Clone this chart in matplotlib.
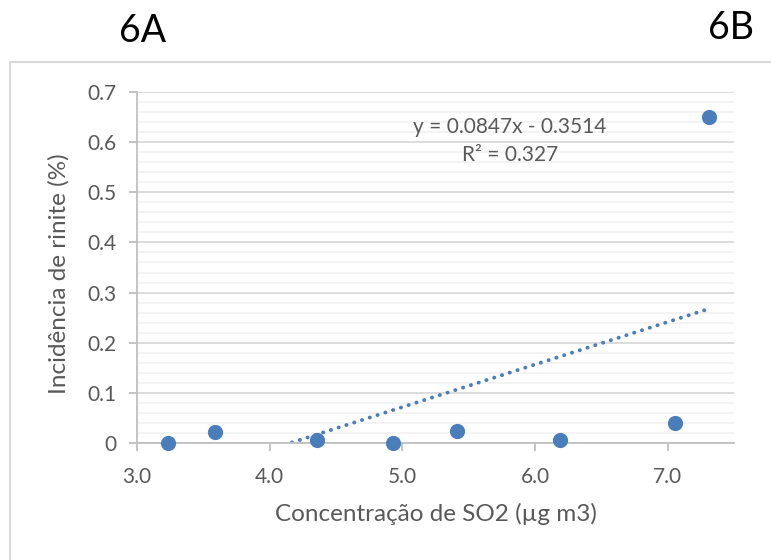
import matplotlib
matplotlib.use("Agg")
import matplotlib.pyplot as plt
import numpy as np
from matplotlib.patches import Rectangle
from matplotlib.ticker import MultipleLocator

# SO2 concentration (µg m3) and rhinitis incidence (%)
so2 = [3.23, 3.59, 4.36, 4.93, 5.41, 6.19, 7.055, 7.31]
incidence = [0.0, 0.023, 0.007, 0.001, 0.024, 0.006, 0.040, 0.649]

# Linear trend reported on the chart
slope = 0.0847
intercept = -0.3514
r_squared = 0.327

x_ticks = [3.0, 4.0, 5.0, 6.0, 7.0]
y_ticks = [0, 0.1, 0.2, 0.3, 0.4, 0.5, 0.6, 0.7]

plt.rcParams["font.family"] = ["Lato", "DejaVu Sans"]

W, H = 771, 560
fig = plt.figure(figsize=(W / 100, H / 100), dpi=100)

# outer chart frame
fig.patches.append(Rectangle((10 / W, -0.1), 1.2, 1 - 62 / H + 0.1,
                             transform=fig.transFigure, fill=False,
                             edgecolor="#D9D9D9", linewidth=1.5))

left, right, top, bottom = 137, 734, 91.7, 443.3
ax = fig.add_axes([left / W, 1 - bottom / H, (right - left) / W, (bottom - top) / H])

gray_text = "#595959"
blue = "#4A7EBB"

ax.set_xlim(3.0, 7.5)
ax.set_ylim(0, 0.7)
ax.set_xticks(x_ticks)
ax.set_xticklabels([f"{v:.1f}" for v in x_ticks])
ax.set_yticks(y_ticks)
ax.set_yticklabels(["0"] + [f"{v:.1f}" for v in y_ticks[1:]])
ax.yaxis.set_minor_locator(MultipleLocator(0.02))

ax.grid(True, which="major", axis="y", color="#D9D9D9", linewidth=1.3, zorder=0)
ax.grid(True, which="minor", axis="y", color="#F2F2F2", linewidth=1.3, zorder=0)
ax.set_axisbelow(True)

for side in ("top", "right"):
    ax.spines[side].set_visible(False)
for side in ("left", "bottom"):
    ax.spines[side].set_color("#BFBFBF")
    ax.spines[side].set_linewidth(1.3)

ax.tick_params(axis="both", which="major", direction="out", length=6, width=1.3,
               color="#BFBFBF", labelcolor=gray_text, labelsize=15)
ax.tick_params(axis="y", which="minor", length=0)
ax.tick_params(axis="x", pad=11)
ax.tick_params(axis="y", pad=9)

# trendline over the range of the data
xt = np.linspace(min(so2), max(so2), 200)
ax.plot(xt, slope * xt + intercept, color=blue, linewidth=2.8,
        linestyle=(0, (0.05, 2.05)), dash_capstyle="round", zorder=2)

ax.scatter(so2, incidence, s=120, color=blue, zorder=3, clip_on=False, linewidths=0)

ax.text(5.81, 0.629, f"y = {slope}x - {abs(intercept)}", ha="center", va="center",
        fontsize=15, color=gray_text)
ax.text(5.81, 0.573, f"R² = {r_squared}", ha="center", va="center",
        fontsize=15, color=gray_text)

ax.set_xlabel("Concentração de SO2 (µg m3)", fontsize=17.5, color=gray_text)
ax.set_ylabel("Incidência de rinite (%)", fontsize=17.5, color=gray_text)
ax.xaxis.set_label_coords(0.5, -(514 - bottom) / (bottom - top), transform=ax.transAxes)
ax.xaxis.label.set_va("center")
ax.yaxis.set_label_coords(-(left - 59) / (right - left), 1 - (274 - top) / (bottom - top),
                          transform=ax.transAxes)
ax.yaxis.label.set_va("center")

fig.text(143 / W, 1 - 31 / H, "6A", fontsize=27, ha="center", va="center", color="black")
fig.text(731 / W, 1 - 28 / H, "6B", fontsize=27, ha="center", va="center", color="black")

fig.savefig("out.png", dpi=100)
